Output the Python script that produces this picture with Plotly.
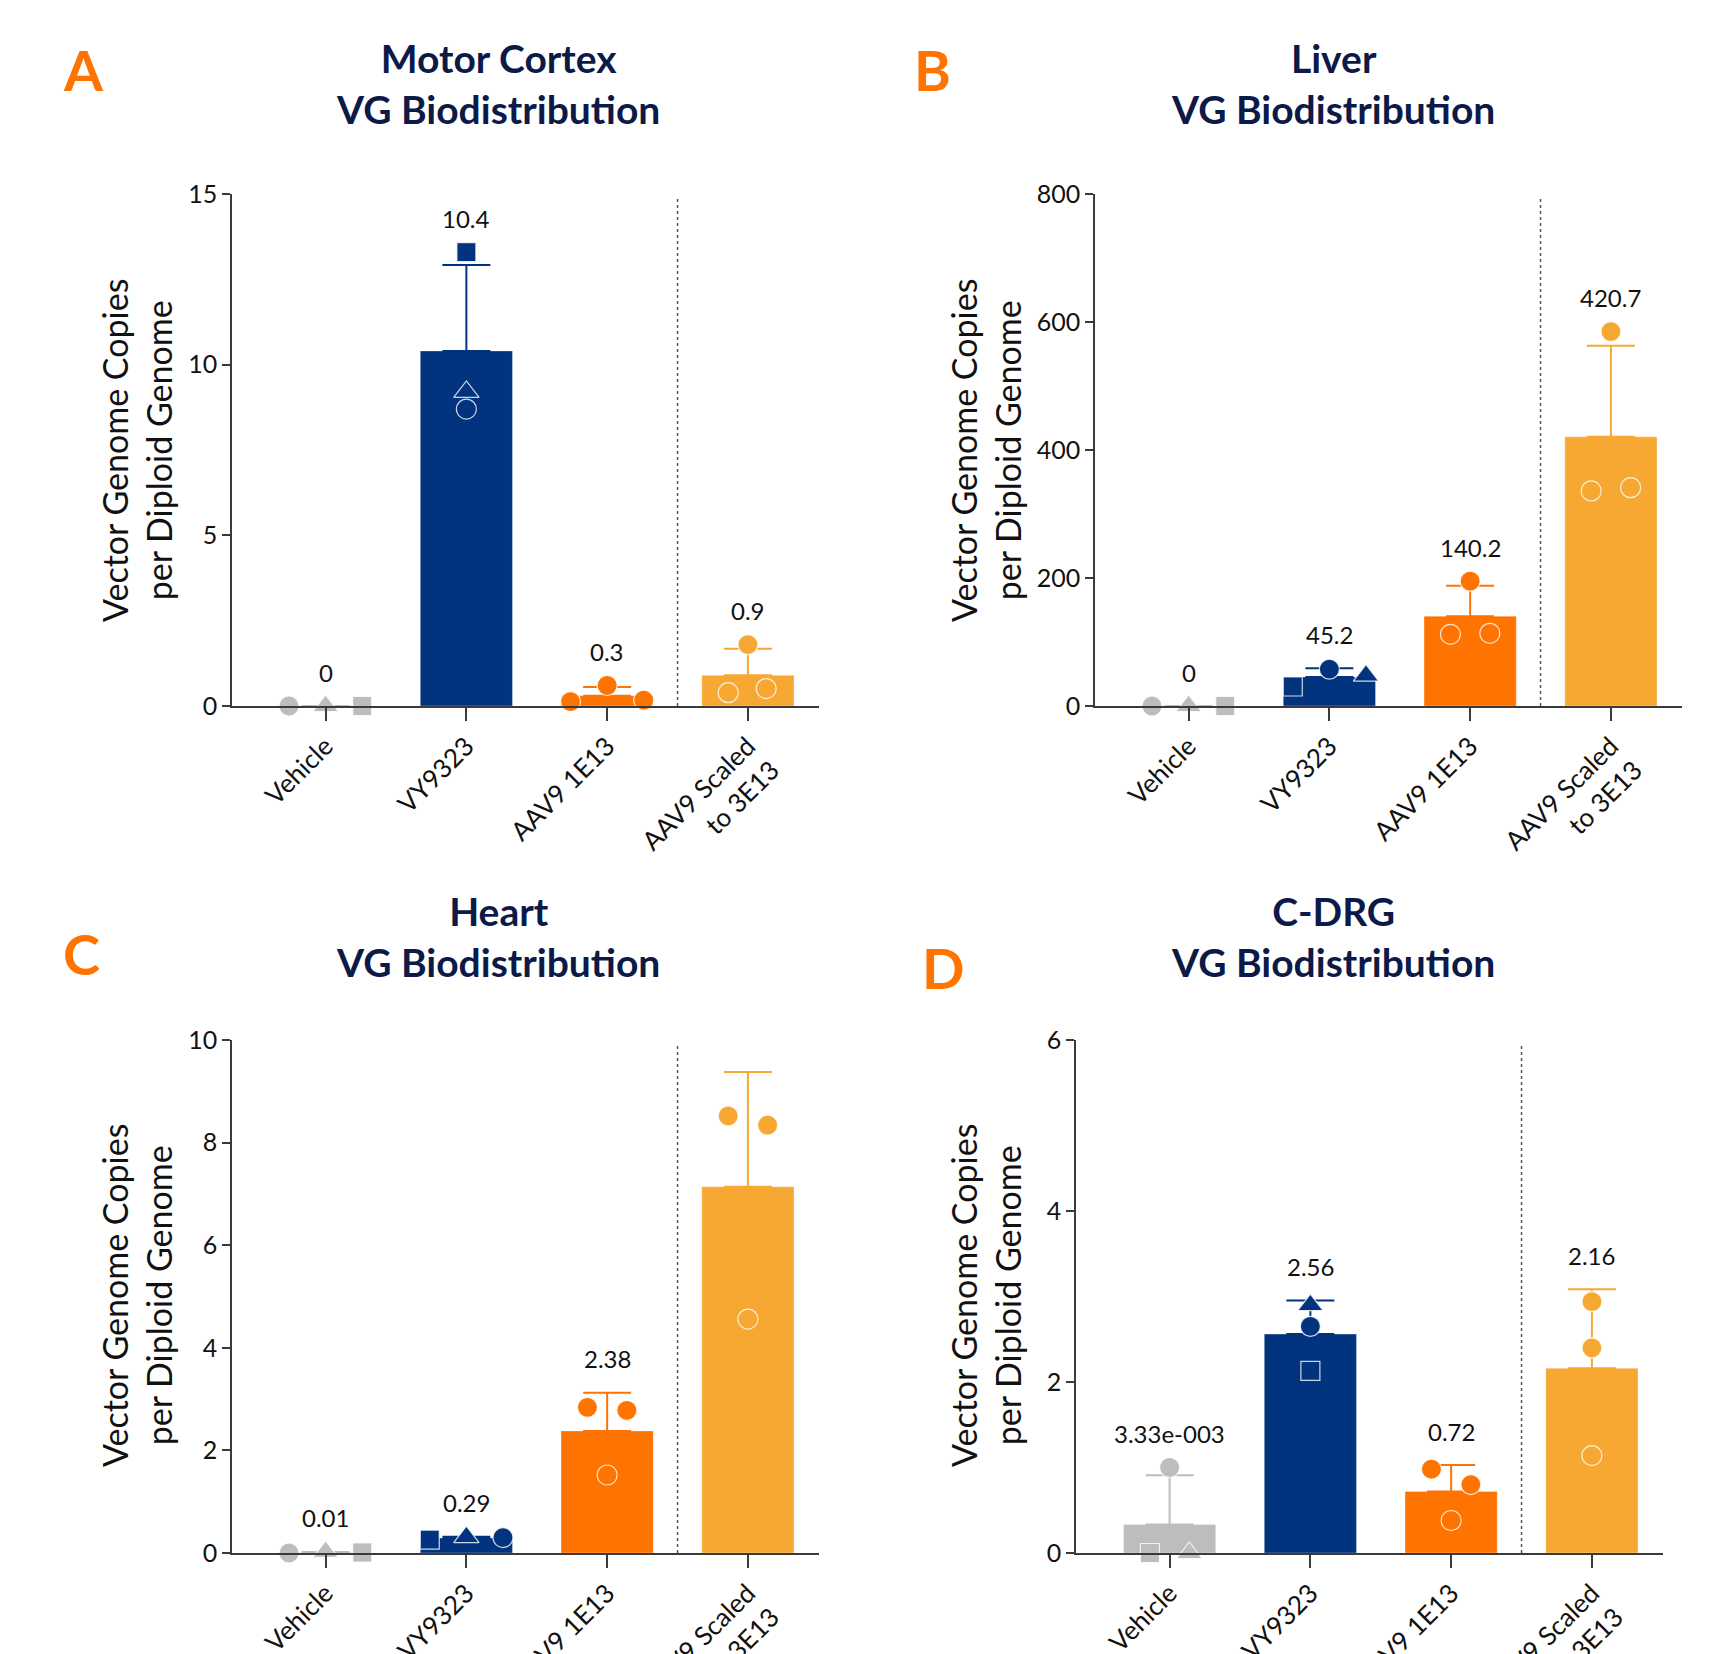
import plotly.graph_objects as go

W, H = 1717, 1654

# ---- data -------------------------------------------------------------
groups = ["Vehicle", "VY9323", "AAV9 1E13", "AAV9 Scaled<br>to 3E13"]

# Motor Cortex (per-animal values, group means, SD)
mc_vehicle = [0.0, 0.0, 0.0]
mc_vy9323 = [13.3, 9.2, 8.7]
mc_aav9 = [0.13, 0.60, 0.17]
mc_scaled = [0.39, 1.80, 0.51]
mc_mean = [0.0, 10.4, 0.3, 0.9]
mc_sd = [0.0, 2.52, 0.26, 0.78]
mc_labels = ["0", "10.4", "0.3", "0.9"]

# Liver
lv_vehicle = [0.0, 0.0, 0.0]
lv_vy9323 = [30.5, 57.5, 47.6]
lv_aav9 = [112.0, 195.0, 113.6]
lv_scaled = [336.0, 585.0, 341.1]
lv_mean = [0.0, 45.2, 140.2, 420.7]
lv_sd = [0.0, 13.6, 47.5, 142.3]
lv_labels = ["0", "45.2", "140.2", "420.7"]

# Heart
ht_vehicle = [0.0, 0.02, 0.01]
ht_vy9323 = [0.26, 0.31, 0.30]
ht_aav9 = [2.84, 1.52, 2.78]
ht_scaled = [8.52, 4.56, 8.34]
ht_mean = [0.01, 0.29, 2.38, 7.14]
ht_sd = [0.01, 0.026, 0.745, 2.235]
ht_labels = ["0.01", "0.29", "2.38", ""]

# C-DRG
dg_vehicle = [0.0, 1.0, 0.0]
dg_vy9323 = [2.90, 2.65, 2.13]
dg_aav9 = [0.98, 0.38, 0.80]
dg_scaled = [2.94, 2.40, 1.14]
dg_mean = [0.333, 2.56, 0.72, 2.16]
dg_sd = [0.577, 0.393, 0.308, 0.924]
dg_labels = ["3.33e-003", "2.56", "0.72", "2.16"]

y_ticks_mc = [0, 5, 10, 15]
y_ticks_lv = [0, 200, 400, 600, 800]
y_ticks_ht = [0, 2, 4, 6, 8, 10]
y_ticks_dg = [0, 2, 4, 6]

# ---- styling ----------------------------------------------------------
FONT = "Lato"
TEXT = "#111111"
AXIS = "#3a3a3a"
TITLE_NAVY = "#0c1a48"
LETTER_ORANGE = "#ff7300"
colors = ["#bdbdbd", "#02337f", "#ff7300", "#f7a833"]

C, T, S = "circle", "triangle-up", "square"
SIZES = {C: 20, T: 22, S: 19}

panels = [
    dict(letter="A", title="Motor Cortex<br>VG Biodistribution",
         pts=[mc_vehicle, mc_vy9323, mc_aav9, mc_scaled],
         mean=mc_mean, sd=mc_sd, labels=mc_labels, yt=y_ticks_mc,
         sym=[[C, T, S], [S, T, C], [C, C, C], [C, C, C]],
         jit=[[-0.26, 0, 0.26], [0, 0, 0], [-0.26, 0, 0.26], [-0.14, 0, 0.13]],
         xpx=(232, 819), ypx=(194, 706), letter_xy=(83, 70),
         title_xy=(498, 84), ytitle_xy=(136, 451)),
    dict(letter="B", title="Liver<br>VG Biodistribution",
         pts=[lv_vehicle, lv_vy9323, lv_aav9, lv_scaled],
         mean=lv_mean, sd=lv_sd, labels=lv_labels, yt=y_ticks_lv,
         sym=[[C, T, S], [S, C, T], [C, C, C], [C, C, C]],
         jit=[[-0.26, 0, 0.26], [-0.26, 0, 0.26], [-0.14, 0, 0.14], [-0.14, 0, 0.14]],
         xpx=(1095, 1682), ypx=(194, 706), letter_xy=(933, 70),
         title_xy=(1333, 84), ytitle_xy=(985, 451)),
    dict(letter="C", title="Heart<br>VG Biodistribution",
         pts=[ht_vehicle, ht_vy9323, ht_aav9, ht_scaled],
         mean=ht_mean, sd=ht_sd, labels=ht_labels, yt=y_ticks_ht,
         sym=[[C, T, S], [S, T, C], [C, C, C], [C, C, C]],
         jit=[[-0.26, 0, 0.26], [-0.26, 0, 0.26], [-0.14, 0, 0.14], [-0.14, 0, 0.14]],
         xpx=(232, 819), ypx=(1040, 1553), letter_xy=(81, 953),
         title_xy=(498, 936), ytitle_xy=(136, 1296)),
    dict(letter="D", title="C-DRG<br>VG Biodistribution",
         pts=[dg_vehicle, dg_vy9323, dg_aav9, dg_scaled],
         mean=dg_mean, sd=dg_sd, labels=dg_labels, yt=y_ticks_dg,
         sym=[[S, C, T], [T, C, S], [C, C, C], [C, C, C]],
         jit=[[-0.14, 0, 0.14], [0, 0, 0], [-0.14, 0, 0.14], [0, 0, 0]],
         xpx=(1076, 1663), ypx=(1040, 1553), letter_xy=(943, 968),
         title_xy=(1333, 936), ytitle_xy=(985, 1296)),
]

X_RANGE = [-0.665, 3.505]
BAR_W = 0.655

fig = go.Figure()
annotations = []
shapes = []


def paper_text(px, py, text, size, color, bold=False, angle=0):
    return dict(x=px / W, y=1 - py / H, xref="paper", yref="paper",
                xanchor="center", yanchor="middle", text=text, showarrow=False,
                textangle=angle,
                font=dict(family=FONT, size=size, color=color,
                          weight="bold" if bold else "normal"))


for i, p in enumerate(panels):
    n = "" if i == 0 else str(i + 1)
    xref, yref = "x" + n, "y" + n

    # bars with one-sided SD error bars, one trace per group
    for g in range(4):
        fig.add_trace(go.Bar(
            x=[g], y=[p["mean"][g]], width=BAR_W, xaxis=xref, yaxis=yref,
            marker=dict(color=colors[g], line=dict(color="rgba(255,255,255,0.3)", width=1)),
            error_y=dict(type="data", symmetric=False, array=[p["sd"][g]],
                         arrayminus=[0], color=colors[g], thickness=2, width=24),
            showlegend=False, hoverinfo="skip", cliponaxis=False,
        ))

    # individual animals
    for g in range(4):
        fig.add_trace(go.Scatter(
            x=[g + j for j in p["jit"][g]], y=p["pts"][g], mode="markers",
            xaxis=xref, yaxis=yref, cliponaxis=False,
            marker=dict(symbol=p["sym"][g], size=[SIZES[s] for s in p["sym"][g]],
                        color=colors[g], opacity=1,
                        line=dict(color="rgba(255,255,255,0.8)", width=1.2)),
            showlegend=False, hoverinfo="skip",
        ))

    # mean value labels above the highest mark of each group
    for g in range(4):
        if not p["labels"][g]:
            continue
        top = max(max(p["pts"][g]), p["mean"][g] + p["sd"][g])
        annotations.append(dict(
            x=g, y=top, xref=xref, yref=yref, text=p["labels"][g],
            showarrow=False, yshift=34, font=dict(family=FONT, size=24, color=TEXT),
        ))

    x0, x1 = p["xpx"]
    ytop, ybot = p["ypx"]
    axis_common = dict(showgrid=False, zeroline=False, showline=True,
                       linecolor=AXIS, linewidth=1.5, ticks="outside",
                       tickcolor=AXIS, tickwidth=1.5, automargin=False)
    fig.layout["xaxis" + n] = dict(
        domain=[x0 / W, x1 / W], anchor=yref, range=X_RANGE,
        tickvals=list(range(4)), ticktext=groups, tickangle=-45, ticklen=13,
        tickfont=dict(family=FONT, size=26, color=TEXT), **axis_common)
    fig.layout["yaxis" + n] = dict(
        domain=[1 - ybot / H, 1 - ytop / H], anchor=xref,
        range=[0, p["yt"][-1]], tickvals=p["yt"], ticklen=8,
        tickfont=dict(family=FONT, size=25, color=TEXT), **axis_common)

    # dotted separator before the scaled group
    shapes.append(dict(type="line", xref=xref, yref=yref + " domain",
                       x0=2.5, x1=2.5, y0=0, y1=0.99,
                       line=dict(color="#555555", width=1.5, dash="dot")))

    lx, ly = p["letter_xy"]
    annotations.append(paper_text(lx, ly, p["letter"], 56, LETTER_ORANGE, bold=True))
    tx, ty = p["title_xy"]
    annotations.append(paper_text(tx, ty, p["title"], 39, TITLE_NAVY, bold=True))
    yx, yy = p["ytitle_xy"]
    annotations.append(paper_text(yx, yy, "Vector Genome Copies<br>per Diploid Genome",
                                  34, TEXT, angle=-90))

fig.update_layout(
    width=W, height=H, margin=dict(l=0, r=0, t=0, b=0, autoexpand=False),
    paper_bgcolor="white", plot_bgcolor="white",
    barmode="overlay", annotations=annotations, shapes=shapes,
    font=dict(family=FONT, color=TEXT),
)

fig.write_html("out.html")
